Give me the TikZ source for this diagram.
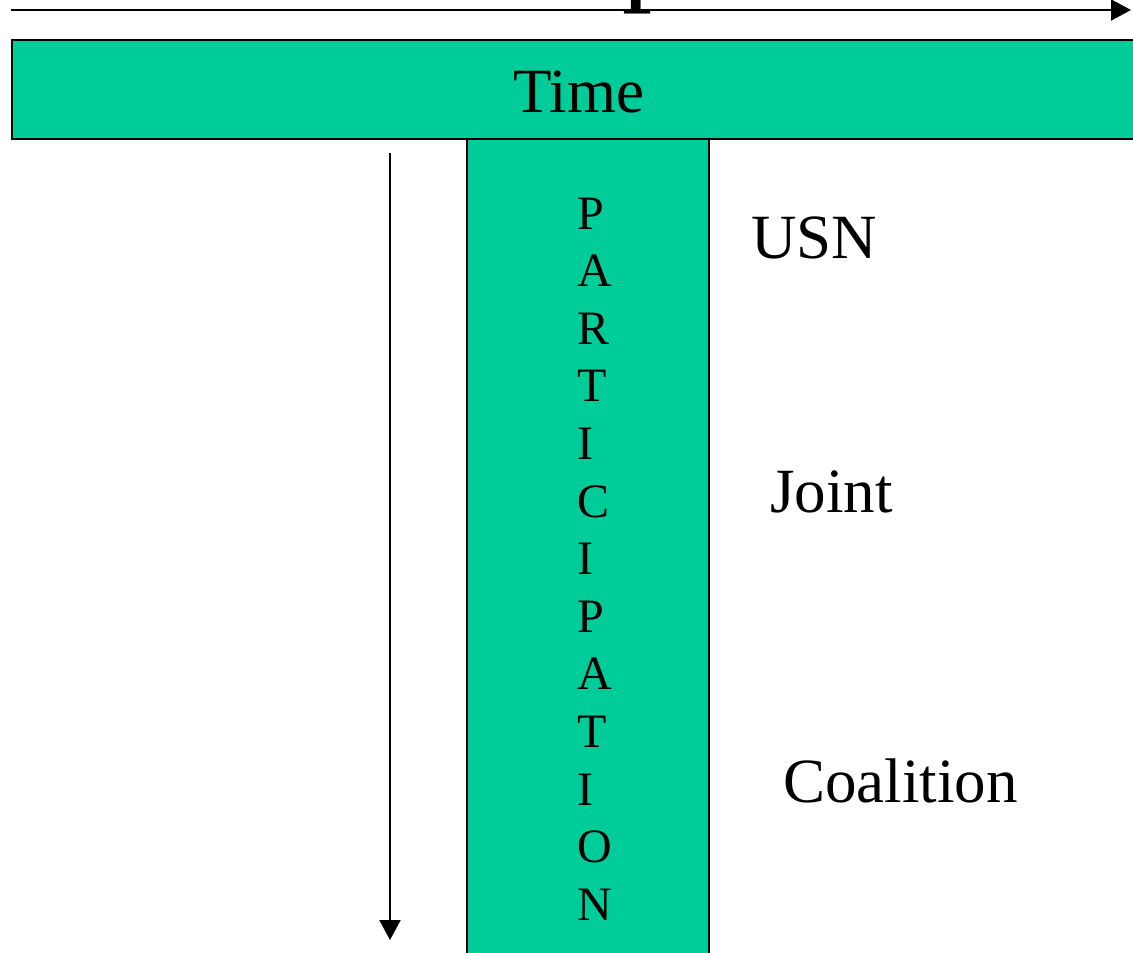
\documentclass[tikz,border=0pt]{standalone}
\usepackage{fontspec}
\setmainfont{Liberation Serif}
\usetikzlibrary{arrows.meta}
\definecolor{tgreen}{RGB}{0,204,153}
\tikzset{
  greenbox/.style={draw=black, fill=tgreen, line width=2pt, inner sep=0pt},
  axisarrow/.style={draw=black, line width=2pt, -{Triangle[length=20pt,width=21pt]}},
  bigtext/.style={font=\fontsize{63}{70}\selectfont, inner sep=0pt},
  lettertext/.style={font=\fontsize{48}{52}\selectfont, inner sep=0pt, anchor=base west},
}
\begin{document}
\begin{tikzpicture}[x=1pt,y=-1pt]
\useasboundingbox (0,0) rectangle (1133,953);
\begin{scope}
\clip (0,0) rectangle (1133,953);
% cut-off title glyph at top
\node[font=\fontsize{120}{130}\selectfont, inner sep=0pt, anchor=base west] (titlep) at (622,-12) {p};
% top arrow
\coordinate (tstart) at (11,10);
\coordinate (tend) at (1131,10);
\draw[axisarrow] (tstart) -- (tend);
% vertical bar
\node[greenbox, line width=1.5pt, anchor=north west, minimum width=242pt, minimum height=830pt] (bar) at (466,138) {};
% time bar
\node[greenbox, anchor=north west, minimum width=1140pt, minimum height=99pt] (timebar) at (11,39) {};
\node[bigtext, anchor=base] (timelabel) at (579,112) {Time};
% left arrow
\coordinate (lstart) at (390,153);
\coordinate (lend) at (390,940);
\draw[axisarrow] (lstart) -- (lend);
% vertical letters
\foreach \ch [count=\i from 0] in {P,A,R,T,I,C,I,P,A,T,I,O,N}{
  \node[lettertext] (letter\i) at (577,229+57.6*\i) {\ch};
}
% labels
\node[bigtext, anchor=base west] (usn) at (751,258) {USN};
\node[bigtext, anchor=base west] (joint) at (770,512) {Joint};
\node[bigtext, anchor=base west] (coalition) at (783,802) {Coalition};
\end{scope}
\end{tikzpicture}
\end{document}
